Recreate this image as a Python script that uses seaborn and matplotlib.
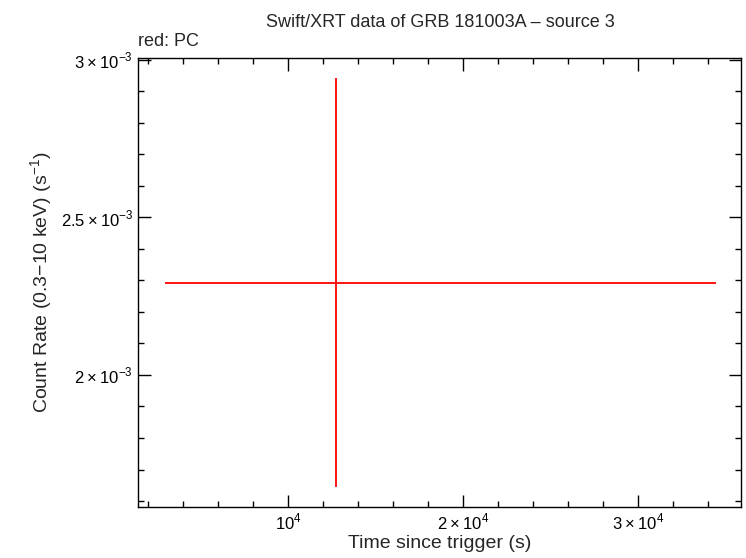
import matplotlib
matplotlib.use("Agg")
import matplotlib.pyplot as plt
from matplotlib.ticker import FixedLocator, MultipleLocator, FixedFormatter
import seaborn as sns

# data
t_mid = [12743.0]
t_lo = [2971.0]
t_hi = [34457.0]
rate = [2.2905e-3]
rate_lo = [1.644e-3]
rate_hi = [2.943e-3]

sns.set_style("ticks")
plt.rcParams["font.family"] = ["Liberation Sans", "DejaVu Sans"]
plt.rcParams["mathtext.fontset"] = "custom"
plt.rcParams["mathtext.rm"] = "Liberation Sans"

fig = plt.figure(figsize=(7.46, 5.58), dpi=100)
ax = fig.add_axes([138 / 746, 1 - 507 / 558, (741 - 138) / 746, (507 - 58) / 558])

xerr = [[t_mid[0] - t_lo[0]], [t_hi[0] - t_mid[0]]]
yerr = [[rate[0] - rate_lo[0]], [rate_hi[0] - rate[0]]]
ax.errorbar(t_mid, rate, xerr=xerr, yerr=yerr, fmt="none", ecolor="red", elinewidth=1.3, capsize=0)

ax.set_xlim(1429, 35886)
ax.set_ylim(1.581e-3, 3.006e-3)

ax.xaxis.set_major_locator(FixedLocator([1e4, 2e4, 3e4]))
ax.xaxis.set_major_formatter(FixedFormatter([r"$10^{4}$", r"$2\times10^{4}$", r"$3\times10^{4}$"]))
ax.xaxis.set_minor_locator(MultipleLocator(2000))
ax.yaxis.set_major_locator(FixedLocator([2e-3, 2.5e-3, 3e-3]))
ax.yaxis.set_major_formatter(FixedFormatter([r"$2\times10^{-3}$", r"$2.5\times10^{-3}$", r"$3\times10^{-3}$"]))
ax.yaxis.set_minor_locator(MultipleLocator(1e-4))

ax.tick_params(which="both", direction="in", top=True, right=True, labelsize=12, colors="black")
ax.tick_params(which="major", length=9, width=1)
ax.tick_params(which="minor", length=4.5, width=1)
for s in ax.spines.values():
    s.set_linewidth(1)
    s.set_color("black")

ax.set_xlabel("Time since trigger (s)", fontsize=14, labelpad=2)
ax.set_ylabel(r"Count Rate (0.3$-$10 keV) (s$^{-1}$)", fontsize=14)
fig.text(0.59, 0.975, "Swift/XRT data of GRB 181003A \u2013 source 3", ha="center", va="top", fontsize=13)
fig.text(138 / 746, 0.94, "red: PC", ha="left", va="top", fontsize=13)

fig.savefig("out.png", dpi=100)
